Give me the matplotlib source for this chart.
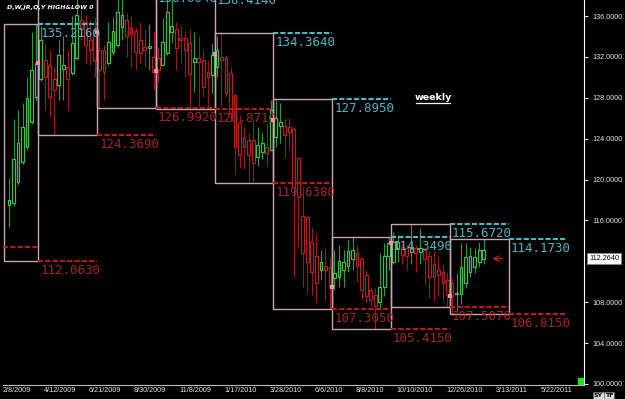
import matplotlib
matplotlib.use("Agg")
import matplotlib.pyplot as plt
import matplotlib.transforms as mtransforms
from matplotlib.patches import Rectangle
import pandas as pd

# weekly candles (price units)
opens = [117.5, 117.7, 119.8, 121.7, 123.2, 125.6, 128.1, 129.8, 131.7, 131.2,
         129.8, 129.3, 130.8, 131.0, 130.4, 131.9, 135.6, 135.4, 133.7, 134.6,
         132.7, 132.7, 131.4, 132.5, 133.2, 134.9, 135.6, 134.9, 134.5, 133.7,
         133.0, 132.9, 132.0, 131.9, 131.2, 132.4, 134.4, 134.7, 133.9, 133.9,
         133.4, 131.5, 131.9, 131.7, 130.5, 130.2, 131.0, 132.0, 132.0, 130.4,
         128.3, 125.5, 124.2, 123.9, 123.9, 122.2, 122.7, 123.2, 122.9, 124.2,
         125.2, 125.2, 125.1, 124.9, 122.1, 116.4, 116.3, 113.9, 112.5, 111.2,
         111.5, 111.4, 110.4, 110.5, 111.2, 111.5, 112.2, 112.8, 112.2, 110.7,
         109.2, 108.7, 108.0, 109.5, 112.5, 111.9, 113.3, 113.4, 113.3, 112.9,
         113.3, 112.9, 113.1, 112.5, 111.7, 111.2, 111.0, 110.2, 109.9, 108.8,
         108.8, 109.9, 111.0, 111.4, 111.9, 112.2]
highs = [120.2, 125.9, 126.8, 127.5, 130.0, 134.4, 135.2, 135.0, 133.4, 132.7,
         131.0, 133.7, 134.0, 132.7, 136.0, 140.1, 137.1, 136.1, 135.6, 135.9,
         134.4, 133.2, 135.4, 135.9, 137.8, 138.6, 136.3, 136.0, 134.9, 135.4,
         134.7, 135.2, 134.4, 133.0, 135.8, 138.4, 137.9, 135.4, 135.1, 134.5,
         134.7, 134.4, 134.0, 132.7, 131.7, 133.4, 134.0, 134.4, 132.2, 131.0,
         128.5, 126.3, 125.1, 124.6, 125.8, 125.1, 124.6, 125.4, 127.8, 127.9,
         127.5, 126.0, 126.0, 125.1, 122.2, 119.3, 116.4, 115.4, 114.8, 113.1,
         113.3, 112.4, 113.1, 113.6, 113.1, 114.1, 114.35, 113.6, 112.4, 111.2,
         109.5, 109.4, 112.8, 113.8, 114.3, 114.9, 114.6, 113.8, 113.6, 115.67,
         113.6, 115.3, 113.3, 113.0, 113.0, 112.5, 111.7, 111.0, 110.4, 110.9,
         113.8, 113.8, 113.4, 113.3, 113.9, 114.17]
lows = [115.4, 117.4, 119.5, 121.5, 122.9, 125.4, 127.8, 129.6, 126.8, 126.1,
        124.4, 127.8, 127.8, 126.8, 130.2, 131.7, 133.7, 131.4, 131.2, 130.0,
        127.0, 127.8, 131.2, 132.2, 133.0, 133.7, 132.0, 131.0, 130.7, 131.4,
        131.0, 130.7, 128.8, 129.5, 131.2, 132.2, 133.4, 130.7, 131.4, 130.0,
        126.9, 128.6, 127.1, 128.1, 127.1, 128.5, 130.0, 127.1, 128.1, 125.6,
        120.5, 121.1, 121.0, 119.64, 119.7, 121.3, 122.0, 121.3, 122.9, 123.2,
        123.6, 122.2, 122.9, 110.5, 113.4, 109.5, 108.9, 108.7, 108.0, 110.2,
        108.3, 107.31, 109.2, 109.5, 109.5, 111.0, 111.2, 110.0, 108.3, 108.0,
        107.5, 105.42, 107.3, 108.6, 111.2, 111.7, 111.9, 111.7, 111.2, 111.7,
        111.0, 111.7, 109.7, 108.4, 108.1, 108.7, 108.1, 107.51, 106.82, 107.1,
        107.8, 109.4, 110.5, 110.9, 111.4, 111.7]
closes = [118.0, 122.0, 123.6, 125.1, 128.0, 130.7, 131.4, 133.7, 130.0, 128.1,
          128.8, 132.2, 131.2, 129.8, 133.4, 136.1, 134.7, 133.2, 132.7, 131.7,
          130.7, 130.5, 133.5, 134.5, 136.4, 136.1, 134.0, 134.2, 132.5, 132.4,
          132.7, 133.1, 130.5, 130.7, 133.5, 136.4, 135.0, 132.9, 133.7, 132.7,
          130.3, 131.9, 131.5, 129.1, 130.0, 132.2, 132.7, 131.7, 128.5, 126.5,
          123.2, 122.4, 123.2, 122.4, 121.6, 123.4, 123.6, 122.6, 126.8, 126.0,
          125.6, 124.4, 124.7, 119.3, 118.3, 112.8, 111.9, 111.0, 109.9, 111.9,
          111.2, 109.4, 110.9, 112.0, 111.9, 113.0, 113.1, 111.5, 109.2, 108.6,
          108.2, 107.6, 109.5, 112.5, 113.8, 113.9, 113.9, 112.6, 112.5, 113.3,
          112.8, 113.3, 112.2, 110.5, 110.5, 110.7, 109.9, 108.7, 108.6, 108.9,
          111.4, 112.4, 112.5, 112.4, 113.1, 113.1]
last_price = 112.264

# quarterly high / low boxes (edges in bar units)
q_edges = [-1.2, 6.5, 19.5, 32.5, 45.5, 58.5, 71.5, 84.5, 97.5, 110.5, 123.5]
q_high = [135.216, 140.100, 138.604, 138.414, 134.364, 127.895, 114.349, 115.672, 114.173]
q_low = [112.063, 124.369, 126.992, 126.871, 119.638, 107.305, 105.415, 107.507, 106.815]
q_open = [131.4, 134.4, 130.6, 132.3, 125.8, 109.5, 113.8, 108.6]
prev_low = 113.45

first_week = "2009-02-08"
date_labels = ["2/8/2009", "4/12/2009", "6/21/2009", "8/30/2009", "11/8/2009",
               "1/17/2010", "3/28/2010", "6/6/2010", "8/8/2010", "10/10/2010",
               "12/26/2010", "3/13/2011", "5/22/2011"]
y_ticks = [100, 104, 108, 116, 120, 124, 128, 132, 136]

BOX = "#c8a6ae"
CYAN = "#52b5c2"
RED_TXT = "#a52828"
RED_LN = "#b41c1c"
UP = "#3fbf4a"
UP_WICK = "#2f9a3a"
DN = "#b3201f"
DN_WICK = "#9a1a1a"

fig = plt.figure(figsize=(6.25, 3.99), dpi=100, facecolor="black")
ax = fig.add_axes([3 / 625, 1 - 385 / 399, 581 / 625, 385 / 399])
ax.set_facecolor("black")
ax.set_xlim(-1.33, 127.2)
ax.set_ylim(99.9, 137.57)

# candles: wick first, then hollow body on top
n = len(opens)
for i in range(n):
    up = closes[i] >= opens[i]
    ax.vlines(i, lows[i], highs[i], color=UP_WICK if up else DN_WICK, lw=0.8, zorder=2)
    lo = min(opens[i], closes[i])
    h = max(abs(closes[i] - opens[i]), 0.12)
    ax.bar(i, h, bottom=lo, width=0.62, color="black",
           edgecolor=UP if up else DN, linewidth=0.9, zorder=3)

# quarter boxes
for k in range(len(q_high)):
    ax.add_patch(Rectangle((q_edges[k], q_low[k]), q_edges[k + 1] - q_edges[k],
                           q_high[k] - q_low[k], fill=False, edgecolor=BOX,
                           lw=1.0, zorder=4))

# previous quarter high/low projected on the next quarter, with labels
txt_off = mtransforms.offset_copy(ax.transData, fig=fig, x=2, y=-3, units="dots")
ax.hlines(prev_low, ax.get_xlim()[0], q_edges[1], color=RED_LN, lw=1.5,
          linestyles=(0, (2.5, 1)), zorder=5)
for k in range(len(q_high)):
    x0, x1 = q_edges[k + 1], q_edges[k + 2]
    ax.hlines(q_high[k], x0, x1, color=CYAN, lw=1.5, linestyles=(0, (2.5, 1)), zorder=5)
    ax.hlines(q_low[k], x0, x1, color=RED_LN, lw=1.5, linestyles=(0, (2.5, 1)), zorder=5)
    ax.text(x0, q_high[k], f"{q_high[k]:.4f}", color=CYAN, fontsize=9,
            family="DejaVu Sans Mono", va="top", ha="left", transform=txt_off,
            clip_on=True, zorder=6)
    ax.text(x0, q_low[k], f"{q_low[k]:.4f}", color=RED_TXT, fontsize=9,
            family="DejaVu Sans Mono", va="top", ha="left", transform=txt_off,
            clip_on=True, zorder=6)

# quarter open markers
ax.scatter(q_edges[1:len(q_open) + 1], q_open, marker="s", s=5, color="#ff8fa8",
           zorder=7, linewidths=0)

# arrow pointing at the last bar
ax.annotate("", xy=(n + 0.3, last_price), xytext=(n + 3.8, last_price),
            arrowprops=dict(arrowstyle="->", color="#c02020", lw=0.9), zorder=7)

# axes styling
for s in ["top", "left"]:
    ax.spines[s].set_visible(False)
ax.spines["bottom"].set_color("#bcbcbc")
ax.spines["right"].set_color("white")
ax.yaxis.tick_right()
ax.set_yticks(y_ticks)
ax.set_yticklabels([f"{v:.4f}" for v in y_ticks])
ax.tick_params(axis="y", colors="#e6e6e6", labelsize=5.2, length=3, width=0.8, pad=3)
for t in ax.get_yticklabels():
    t.set_family("Liberation Sans")
ax.set_xticks([])

# date labels (week number from the first bar)
week_idx = [(pd.Timestamp(d) - pd.Timestamp(first_week)).days / 7
            for d in pd.to_datetime(date_labels, format="%m/%d/%Y")]
date_tr = mtransforms.offset_copy(
    mtransforms.blended_transform_factory(ax.transData, ax.transAxes),
    fig=fig, x=-6, y=-2, units="dots")
for wi, lab in zip(week_idx, date_labels):
    ax.text(wi, 0, lab, transform=date_tr, color="#e6e6e6", fontsize=5.2,
            family="Liberation Sans", ha="left", va="top", clip_on=False)

# current price box
ax.text(1.0, last_price, f"{last_price:.4f}", color="black", fontsize=5.2,
        family="Liberation Sans", ha="left", va="center",
        transform=mtransforms.offset_copy(
            mtransforms.blended_transform_factory(ax.transAxes, ax.transData),
            fig=fig, x=5, y=0, units="dots"),
        bbox=dict(boxstyle="square,pad=0.25", fc="white", ec="#888888", lw=0.5))

ax.add_patch(Rectangle((1 - 6 / 581, 0.002), 5 / 581, 6 / 385, transform=ax.transAxes,
                       color="#22dd22", zorder=8, clip_on=False))

# titles
fig.text(7 / 625, 1 - 7 / 399, "D,W,JR,Q,Y HIGH&LOW 0", color="white", fontsize=4.5,
         style="italic", weight="bold", va="center", ha="left")
fig.text(433 / 625, 1 - 97 / 399, "weekly", color="white", fontsize=6.8,
         weight="bold", va="center", ha="center")
fig.add_artist(plt.Line2D([416 / 625, 450 / 625], [1 - 103 / 399] * 2,
                          color="white", lw=0.9))

for lab, xp in [("SY", 598), ("TF", 609)]:
    fig.text(xp / 625, 3.5 / 399, lab, color="black", fontsize=4.5, weight="bold",
             ha="center", va="center",
             bbox=dict(boxstyle="square,pad=0.15", fc="#d8d8d8", ec="#666666", lw=0.4))

fig.savefig("out.png", dpi=100, facecolor="black")
